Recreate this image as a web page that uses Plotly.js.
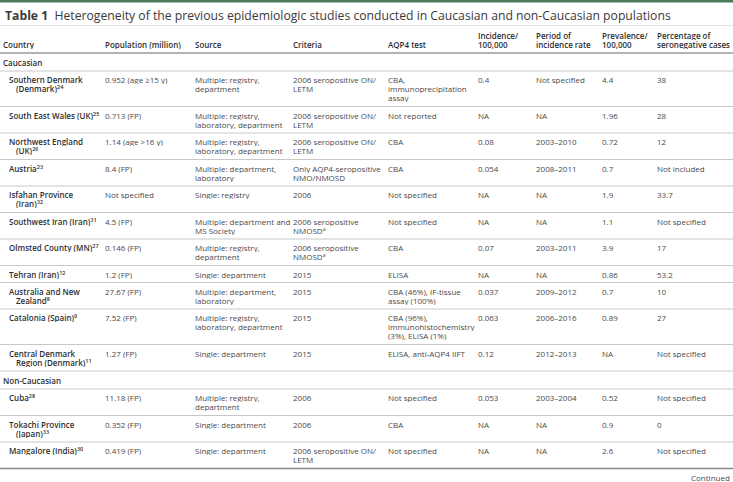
<!DOCTYPE html>
<html><head><meta charset="utf-8">
<script src="https://cdn.plot.ly/plotly-3.0.1.min.js"></script>
<style>html,body{margin:0;padding:0;background:#fff}#chart{width:733px;height:482px}</style>
</head><body><div id="chart"></div>
<script>
const titleLabel = "Table 1";
const titleText = "Heterogeneity of the previous epidemiologic studies conducted in Caucasian and non-Caucasian populations";
const headers = ["Country", "Population (million)", "Source", "Criteria", "AQP4 test",
  "Incidence/<br>100,000", "Period of<br>incidence rate", "Prevalence/<br>100,000", "Percentage of<br>seronegative cases"];
const groups = ["Caucasian", "Non-Caucasian"];
const rowGroup = [0,0,0,0,0,0,0,0,0,0,0,1,1,1];
const countries = ["Southern Denmark<br>(Denmark)", "South East Wales (UK)", "Northwest England<br>(UK)", "Austria",
  "Isfahan Province<br>(Iran)", "Southwest Iran (Iran)", "Olmsted County (MN)", "Tehran (Iran)",
  "Australia and New<br>Zealand", "Catalonia (Spain)", "Central Denmark<br>Region (Denmark)",
  "Cuba", "Tokachi Province<br>(Japan)", "Mangalore (India)"];
const refs = ["24","25","26","23","32","31","27","12","8","9","11","28","33","30"];
const population = ["0.952 (age ≥15 y)", "0.713 (FP)", "1.14 (age >16 y)", "8.4 (FP)", "Not specified", "4.5 (FP)",
  "0.146 (FP)", "1.2 (FP)", "27.67 (FP)", "7.52 (FP)", "1.27 (FP)", "11.18 (FP)", "0.352 (FP)", "0.419 (FP)"];
const source = ["Multiple: registry,<br>department", "Multiple: registry,<br>laboratory, department",
  "Multiple: registry,<br>laboratory, department", "Multiple: department,<br>laboratory", "Single: registry",
  "Multiple: department and<br>MS Society", "Multiple: registry,<br>department", "Single: department",
  "Multiple: department,<br>laboratory", "Multiple: registry,<br>laboratory, department", "Single: department",
  "Multiple: registry,<br>department", "Single: department", "Single: department"];
const criteria = ["2006 seropositive ON/<br>LETM", "2006 seropositive ON/<br>LETM", "2006 seropositive ON/<br>LETM",
  "Only AQP4-seropositive<br>NMO/NMOSD", "2006", "2006 seropositive<br>NMOSD<sup>a</sup>", "2006 seropositive<br>NMOSD<sup>a</sup>",
  "2015", "2015", "2015", "2015", "2006", "2006", "2006 seropositive ON/<br>LETM"];
const aqp4Test = ["CBA,<br>immunoprecipitation<br>assay", "Not reported", "CBA", "CBA", "Not specified", "Not specified",
  "CBA", "ELISA", "CBA (46%), IF-tissue<br>assay (100%)", "CBA (96%),<br>immunohistochemistry<br>(3%), ELISA (1%)",
  "ELISA, anti-AQP4 IIFT", "Not specified", "CBA", "Not specified"];
const incidence = ["0.4", "NA", "0.08", "0.054", "NA", "NA", "0.07", "NA", "0.037", "0.063", "0.12", "0.053", "NA", "NA"];
const period = ["Not specified", "NA", "2003–2010", "2008–2011", "NA", "NA", "2003–2011", "NA", "2009–2012",
  "2006–2016", "2012–2013", "2003–2004", "NA", "NA"];
const prevalence = ["4.4", "1.96", "0.72", "0.7", "1.9", "1.1", "3.9", "0.86", "0.7", "0.89", "NA", "0.52", "0.9", "2.6"];
const seronegative = ["38", "28", "12", "Not included", "33.7", "Not specified", "17", "53.2", "10", "27",
  "Not specified", "Not specified", "0", "Not specified"];
const footnote = "Continued";

// ---- layout helpers ----
const W = 733, H = 482;
const colX = [2, 104, 194, 292, 387, 477, 535, 601, 656];
const FONT = "Open Sans, Noto Sans, sans-serif";
const FS = 8, LH = 9;
const bodyColor = "#4a4a4a", boldColor = "#2f2f2f";
const annotations = [], shapes = [];

function addText(txt, x, y, opts) {
  opts = opts || {};
  const a = {
    text: txt, x: x, y: y, xref: "x", yref: "y", xanchor: "left", yanchor: "middle",
    showarrow: false, borderpad: 0,
    font: {family: FONT, size: opts.size || FS, color: opts.color || bodyColor, weight: opts.weight || 400}
  };
  if (opts.h) a.height = opts.h;
  annotations.push(a);
}
function hline(y, color, width) {
  shapes.push({type: "line", xref: "x", yref: "y", x0: 0, x1: W, y0: y, y1: y,
    line: {color: color, width: width}});
}
function cellLines(txt, x, rTop, bold, indentX) {
  const parts = txt.split("<br>");
  parts.forEach((p, i) => {
    addText(p, (i > 0 && indentX !== undefined) ? indentX : x, rTop + 8.5 + LH * i,
      {color: bold ? boldColor : bodyColor, weight: bold ? 600 : 400, h: 9});
  });
  return parts.length;
}

// top band
shapes.push({type: "rect", xref: "x", yref: "y", x0: 0, x1: W, y0: 0, y1: 2.5,
  fillcolor: "#4a7b58", line: {width: 0}});
// title
addText("<b>" + titleLabel + "</b>  " + titleText, 4, 15, {size: 12.2, color: "#3a3a3a"});
hline(25.5, "#e3e3e3", 1);

// header
headers.forEach((h, c) => {
  const parts = h.split("<br>");
  parts.forEach((p, i) => {
    const y = 44 - LH * (parts.length - 1 - i);
    addText(p, colX[c], y, {color: boldColor, weight: 600, h: 9});
  });
});
hline(53, "#9a9a9a", 1.5);

let rowTop = 53;
let lastGroup = -1;
const cols = [population, source, criteria, aqp4Test, incidence, period, prevalence, seronegative];
countries.forEach((name, r) => {
  if (rowGroup[r] !== lastGroup) {
    lastGroup = rowGroup[r];
    addText(groups[lastGroup], colX[0], rowTop + 9, {color: boldColor, weight: 600});
    rowTop += 18;
    hline(rowTop, "#c8c8c8", 1);
  }
  const parts = name.split("<br>");
  parts[parts.length - 1] += "<sup>" + refs[r] + "</sup>";
  let nLines = cellLines(parts.join("<br>"), 8, rowTop, true, 15);
  cols.forEach((arr, c) => {
    nLines = Math.max(nLines, cellLines(arr[r], colX[c + 1], rowTop, false));
  });
  const h = nLines === 1 ? 17 : 8.5 + LH * nLines;
  rowTop += h;
  const last = r === countries.length - 1;
  hline(rowTop, last ? "#8a8a8a" : "#c8c8c8", last ? 1.5 : 1);
});

annotations.push({text: footnote, x: W - 2, y: rowTop + 8.5, xref: "x", yref: "y", xanchor: "right",
  yanchor: "middle", showarrow: false, borderpad: 0, height: 9, font: {family: FONT, size: FS, color: bodyColor}});

const layout = {
  width: W, height: H, margin: {l: 0, r: 0, t: 0, b: 0},
  paper_bgcolor: "#ffffff", plot_bgcolor: "#ffffff",
  xaxis: {range: [0, W], visible: false, fixedrange: true},
  yaxis: {range: [H, 0], visible: false, fixedrange: true},
  showlegend: false, annotations: annotations, shapes: shapes
};
Plotly.newPlot("chart", [], layout, {displayModeBar: false, staticPlot: true});
</script>
</body></html>
